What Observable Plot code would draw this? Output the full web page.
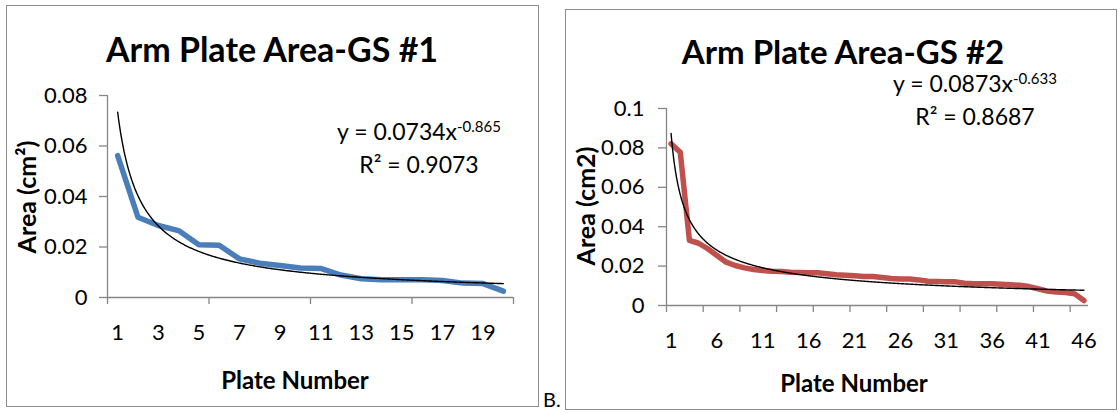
<!DOCTYPE html>
<html><head><meta charset="utf-8">
<script src="https://cdn.jsdelivr.net/npm/d3@7"></script>
<script src="https://cdn.jsdelivr.net/npm/@observablehq/plot@0.6"></script>
<style>
body{margin:0;background:#fff;}
#root{position:relative;width:1120px;height:413px;overflow:hidden;background:#fff;font-family:Lato,"Open Sans",sans-serif;color:#000}
.box{position:absolute;box-sizing:border-box;border:1.5px solid #8c8c8c;}
.t{position:absolute;white-space:nowrap;line-height:1;}
.chart{position:absolute;}
sup{font-size:15px;position:relative;top:-8px;vertical-align:baseline;line-height:0}
</style></head><body><div id="root"></div>
<script>
// ---- data: GS #1 ----
const plates1 = [1,2,3,4,5,6,7,8,9,10,11,12,13,14,15,16,17,18,19,20];
const area1 = [0.0562,0.0318,0.0285,0.0265,0.0209,0.0207,0.0153,0.0136,0.0127,0.0117,
               0.0115,0.0089,0.0074,0.0070,0.0070,0.0070,0.0067,0.0057,0.0055,0.0025];
const xLabels1 = [1,3,5,7,9,11,13,15,17,19];
const yTicks1 = [0,0.02,0.04,0.06,0.08];
const yLabels1 = ["0","0.02","0.04","0.06","0.08"];
const trend1 = [0.0734,-0.865];   // y = a x^b (from chart)
const r2_1 = "0.9073";

// ---- data: GS #2 ----
const plates2 = [1,2,3,4,5,6,7,8,9,10,11,12,13,14,15,16,17,18,19,20,21,22,23,24,25,26,27,28,29,30,
                 31,32,33,34,35,36,37,38,39,40,41,42,43,44,45,46];
const area2 = [0.0821,0.0778,0.0330,0.0316,0.0288,0.0254,0.0220,0.0203,0.0191,0.0183,
               0.0178,0.0174,0.0173,0.0169,0.0167,0.0166,0.0166,0.0161,0.0156,0.0154,
               0.0151,0.0147,0.0147,0.0142,0.0137,0.0135,0.0134,0.0130,0.0123,0.0122,
               0.0120,0.0120,0.0113,0.0110,0.0110,0.0110,0.0108,0.0105,0.0103,0.0096,
               0.0085,0.0073,0.0068,0.0066,0.0059,0.0025];
const xLabels2 = [1,6,11,16,21,26,31,36,41,46];
const yTicks2 = [0,0.02,0.04,0.06,0.08,0.1];
const yLabels2 = ["0","0.02","0.04","0.06","0.08","0.1"];
const trend2 = [0.0873,-0.633];
const r2_2 = "0.8687";

const root = document.getElementById("root");
function box(l,t,w,h){const d=document.createElement("div");d.className="box";Object.assign(d.style,{left:l+"px",top:t+"px",width:w+"px",height:h+"px"});root.appendChild(d);}
function txt(html,x,base,size,weight,anchor){
  const d=document.createElement("div");d.className="t";d.innerHTML=html;
  d.style.fontSize=size+"px";d.style.fontWeight=weight;
  d.style.top=(base-0.887*size)+"px";d.style.left=x+"px";
  if(anchor==="middle")d.style.transform="translateX(-50%)";
  root.appendChild(d);return d;}
function vtxt(html,baseX,cy,size){
  const d=document.createElement("div");d.className="t";d.innerHTML=html;
  d.style.fontSize=size+"px";d.style.fontWeight="bold";
  const cx=baseX-0.387*size;
  d.style.left=cx+"px";d.style.top=cy+"px";
  d.style.transform="translate(-50%,-50%) rotate(-90deg)";
  root.appendChild(d);}

function trendPts(coef,n){const pts=[];for(let x=1;x<=n+1e-9;x+=0.05)pts.push({x,y:coef[0]*Math.pow(x,coef[1])});return pts;}

function chart(o){
  const data=o.plates.map((p,i)=>({plate:p,area:o.area[i]}));
  const n=o.plates.length;
  const bounds=[];for(let b=0.5;b<=n+0.5+1e-9;b+=o.tickEvery)bounds.push(b);
  const svg=Plot.plot({
    width:o.w,height:o.h,marginLeft:o.ml,marginRight:o.mr,marginTop:o.mt,marginBottom:o.mb,
    style:{fontFamily:"Lato, 'Open Sans', sans-serif",fontSize:"22px",color:"#000",background:"transparent",overflow:"visible"},
    x:{domain:[0.5,n+0.5],axis:null},
    y:{domain:[0,o.yTicks[o.yTicks.length-1]],axis:null},
    marks:[
      Plot.ruleX([0.5],{stroke:"#868686",strokeWidth:1.3}),
      Plot.ruleY([0],{stroke:"#868686",strokeWidth:1.3}),
      Plot.axisY({ticks:o.yTicks,tickSize:8,tickFormat:()=>"",stroke:"#868686",strokeWidth:1.3}),
      Plot.axisY({ticks:o.yTicks,tickSize:0,tickPadding:o.yPad,tickFormat:(d)=>o.yLabels[o.yTicks.indexOf(d)],fill:"#000",fontSize:22}),
      Plot.axisX({ticks:bounds,tickSize:7,tickFormat:()=>"",stroke:"#868686",strokeWidth:1.3}),
      Plot.axisX({ticks:o.xLabels,tickSize:0,tickPadding:27,fill:"#000",fontSize:22}),
      Plot.line(data,{x:"plate",y:"area",stroke:o.color,strokeWidth:5.5,strokeLinejoin:"round",strokeLinecap:"round"}),
      Plot.line(trendPts(o.trend,n),{x:"x",y:"y",stroke:"#000",strokeWidth:1.4})
    ]
  });
  svg.classList.add("chart");svg.style.left=o.left+"px";svg.style.top=o.top+"px";
  root.appendChild(svg);
}

// panel 1
box(6,5,533,402);
chart({plates:plates1,area:area1,xLabels:xLabels1,yTicks:yTicks1,yLabels:yLabels1,trend:trend1,tickEvery:5,
  color:"#4A7EBB",left:6,top:5,w:533,h:402,ml:101,mr:26,mt:90,mb:110,yPad:20});
txt("Arm Plate Area-GS #1",272,62,34,"bold","middle");
txt("y = "+trend1[0]+"x<sup>"+trend1[1]+"</sup>",419,140,23,"normal","middle");
txt("R² = "+r2_1,419,173,23,"normal","middle");
vtxt("Area (cm²)",36,197,25);
txt("Plate Number",295,389,24,"bold","middle");

// panel 2
box(565,9,552,401);
chart({plates:plates2,area:area2,xLabels:xLabels2,yTicks:yTicks2,yLabels:yLabels2,trend:trend2,tickEvery:4,
  color:"#C0504D",left:565,top:9,w:552,h:401,ml:101,mr:29,mt:99,mb:105,yPad:22});
txt("Arm Plate Area-GS #2",843,64,33,"bold","middle");
txt("y = "+trend2[0]+"x<sup>"+trend2[1]+"</sup>",975,92,23,"normal","middle");
txt("R² = "+r2_2,975,125,23,"normal","middle");
vtxt("Area (cm2)",595,206,25);
txt("Plate Number",854,392,24,"bold","middle");

txt("B.",543,407,20,"normal","start");
</script></body></html>
